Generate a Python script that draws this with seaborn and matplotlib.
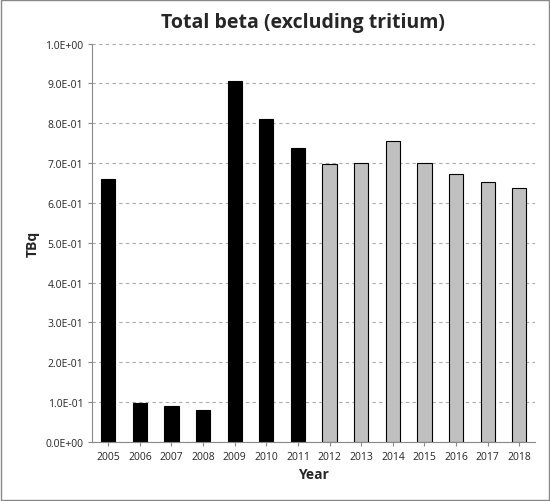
import matplotlib
matplotlib.use("Agg")
import matplotlib.pyplot as plt
import seaborn as sns
import pandas as pd
from matplotlib.ticker import FuncFormatter

years = ["2005","2006","2007","2008","2009","2010","2011","2012","2013","2014","2015","2016","2017","2018"]
values = [0.66,0.097,0.09,0.08,0.907,0.81,0.737,0.698,0.70,0.755,0.70,0.673,0.653,0.638]
groups = ["a"]*7 + ["b"]*7

sns.set_style("white")
plt.rcParams['font.family'] = ['Open Sans', 'DejaVu Sans']
df = pd.DataFrame({"Year": years, "TBq": values, "g": groups})

fig = plt.figure(figsize=(5.5, 5.02), dpi=100)
ax = fig.add_axes([0.168, 0.118, 0.805, 0.793])
sns.barplot(data=df, x="Year", y="TBq", hue="g", palette={"a": "black", "b": "#c0c0c0"},
            dodge=False, width=0.45, edgecolor="black", linewidth=0.8, legend=False, ax=ax)
ax.set_ylim(0, 1.0)
ax.set_yticks([i/10 for i in range(11)])
ax.yaxis.set_major_formatter(FuncFormatter(lambda v, p: "%.1fE%+03d" % ((v*10, -1) if v < 1 and v > 0 else (v, 0))))
ax.set_yticklabels(["0.0E+00"] + ["%d.0E-01" % i for i in range(1, 10)] + ["1.0E+00"])
ax.yaxis.grid(True, linestyle=(0, (3, 3)), color="#aaaaaa", linewidth=0.8)
ax.set_axisbelow(True)
for s in ["top", "right"]:
    ax.spines[s].set_visible(False)
for s in ["left", "bottom"]:
    ax.spines[s].set_color("#888888")
ax.tick_params(axis="both", labelsize=7.5, length=3, color="#888888", left=True, bottom=True)
ax.set_xlabel("Year", fontsize=10, fontweight="bold")
ax.set_ylabel("TBq", fontsize=10, fontweight="bold")
fig.text(0.55, 0.945, "Total beta (excluding tritium)", ha="center", fontsize=14, fontweight="bold")
fig.patches.append(plt.Rectangle((0.002, 0.002), 0.996, 0.996, transform=fig.transFigure,
                                 fill=False, edgecolor="#888888", linewidth=1))
fig.savefig("out.png", dpi=100)
